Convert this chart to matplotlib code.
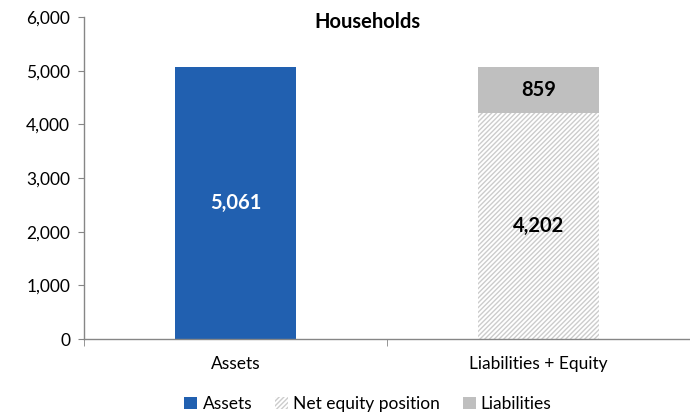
import numpy as np
import matplotlib.pyplot as plt
from matplotlib.ticker import FuncFormatter
from matplotlib.patches import Patch

plt.rcParams['font.family'] = ['Lato', 'DejaVu Sans']
plt.rcParams['hatch.color'] = '#cccccc'
plt.rcParams['hatch.linewidth'] = 1.0

categories = ['Assets', 'Liabilities + Equity']
assets = [5061, 0]
net_equity = [0, 4202]
liabilities = [0, 859]

blue = '#2160b0'
grey = '#bfbfbf'

fig = plt.figure(figsize=(6.9, 4.16), dpi=100)
ax = fig.add_axes([84 / 690, 1 - 339 / 416, 606 / 690, 322 / 416])

x = np.arange(len(categories))
w = 0.4
ax.bar(x[0], assets[0], w, color=blue)
ax.bar(x[1], net_equity[1], w, color='white', hatch='///////', edgecolor='#cccccc', linewidth=0)
ax.bar(x[1], liabilities[1], w, bottom=net_equity[1], color=grey)

# value labels
ax.text(x[0], assets[0] / 2, f'{assets[0]:,}', ha='center', va='center',
        color='white', fontsize=14.5, fontweight='bold')
ax.text(x[1], net_equity[1] / 2, f'{net_equity[1]:,}', ha='center', va='center',
        color='black', fontsize=14.5, fontweight='bold')
ax.text(x[1], net_equity[1] + liabilities[1] / 2, f'{liabilities[1]:,}', ha='center', va='center',
        color='black', fontsize=14.5, fontweight='bold')

ax.set_xlim(-0.5, 1.46)
ax.set_ylim(0, 6000)
ax.set_yticks(np.arange(0, 6001, 1000))
ax.yaxis.set_major_formatter(FuncFormatter(lambda v, p: f'{int(v):,}'))
ax.set_xticks(x)
ax.set_xticklabels(categories)
ax.set_xticks([-0.5, 0.5, 1.5], minor=True)
ax.tick_params(axis='x', which='major', length=0, pad=12, labelsize=12.5)
ax.tick_params(axis='x', which='minor', length=5, color='#868686', direction='out')
ax.tick_params(axis='y', length=4, color='#868686', labelsize=12.5, pad=6)

for s in ['top', 'right']:
    ax.spines[s].set_visible(False)
for s in ['left', 'bottom']:
    ax.spines[s].set_color('#868686')
    ax.spines[s].set_linewidth(1.0)

fig.text(367 / 690, 1 - 22 / 416, 'Households', ha='center', va='center',
         fontsize=14.5, fontweight='bold')

handles = [
    Patch(facecolor=blue, label='Assets'),
    Patch(facecolor='white', hatch='///////', edgecolor='#cccccc', linewidth=0, label='Net equity position'),
    Patch(facecolor=grey, label='Liabilities'),
]
fig.legend(handles=handles, loc='center', bbox_to_anchor=(368 / 690, 1 - 404 / 416),
           ncol=3, frameon=False, fontsize=12.5, handlelength=0.75, handleheight=0.75,
           handletextpad=0.3, columnspacing=1.3)

fig.savefig('out.png', dpi=100)
